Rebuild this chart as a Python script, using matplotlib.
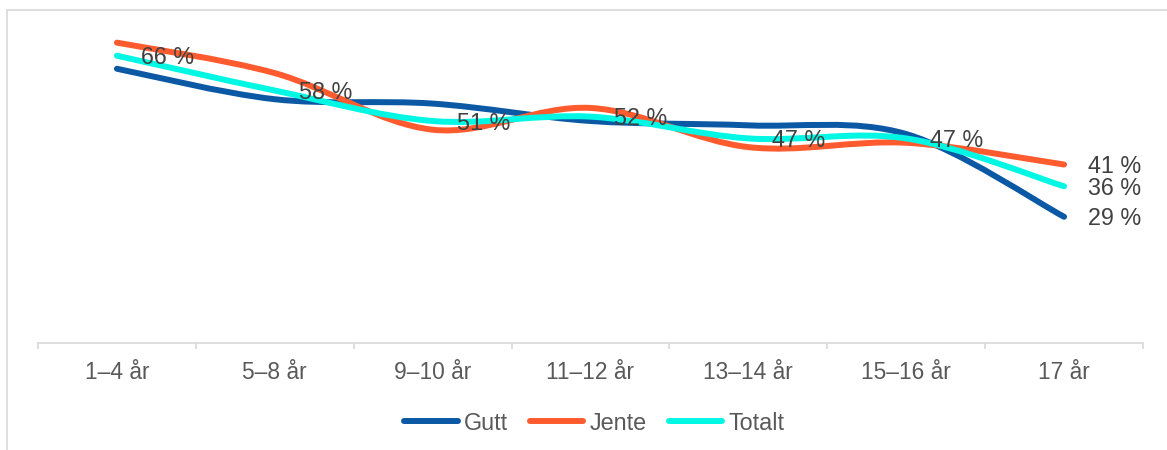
import numpy as np
import matplotlib.pyplot as plt
from matplotlib.path import Path
from matplotlib.patches import PathPatch, Rectangle
from matplotlib.lines import Line2D

plt.rcParams['font.family'] = ['Liberation Sans', 'DejaVu Sans']

kategorier = ['1–4 år', '5–8 år', '9–10 år', '11–12 år', '13–14 år', '15–16 år', '17 år']
gutt = [63, 56, 55, 51, 50, 48, 29]
jente = [69, 62, 49, 54, 45, 46, 41]
totalt = [66, 58, 51, 52, 47, 47, 36]
navn = ['Gutt', 'Jente', 'Totalt']
farger = ['#0B58A4', '#FF5B2F', '#00F7E3']


def glatt_sti(y):
    # excel-style smoothed line as cubic bezier segments
    x = np.arange(len(y), dtype=float)
    p = np.column_stack([x, np.asarray(y, dtype=float)])
    verts = [p[0]]
    codes = [Path.MOVETO]
    n = len(p)
    for i in range(n - 1):
        p0 = p[max(i - 1, 0)]
        p3 = p[min(i + 2, n - 1)]
        c1 = p[i] + (p[i + 1] - p0) / 6
        c2 = p[i + 1] - (p3 - p[i]) / 6
        verts += [c1, c2, p[i + 1]]
        codes += [Path.CURVE4] * 3
    return Path(verts, codes)


fig = plt.figure(figsize=(11.67, 4.5), dpi=100)
ax = fig.add_axes([38 / 1167, 107 / 450, (1143 - 38) / 1167, 333 / 450])

for serie, farge in zip([gutt, jente, totalt], farger):
    ax.add_patch(PathPatch(glatt_sti(serie), facecolor='none', edgecolor=farge,
                           lw=4.3, capstyle='round', joinstyle='round', zorder=2))

for i, v in enumerate(totalt[:-1]):
    ax.annotate(f'{v} %', (i, v), xytext=(24, -2), textcoords='offset pixels',
                ha='left', va='center', fontsize=16.8, color='#404040', zorder=5)
for serie in [gutt, jente, totalt]:
    ax.annotate(f'{serie[-1]} %', (6, serie[-1]), xytext=(24, -2), textcoords='offset pixels',
                ha='left', va='center', fontsize=16.8, color='#404040', zorder=5)

ax.set_xlim(-0.5, 6.5)
ax.set_ylim(0, 76.5)
ax.set_yticks([])
ax.set_xticks(range(7))
ax.set_xticklabels(kategorier, fontsize=16.4, color='#595959')
ax.set_xticks(np.arange(-0.5, 7, 1), minor=True)
ax.tick_params(axis='x', which='major', length=0, pad=13)
ax.tick_params(axis='x', which='minor', length=4.5, color='#d9d9d9', width=1.2)
for s in ['top', 'right', 'left']:
    ax.spines[s].set_visible(False)
ax.spines['bottom'].set_color('#d9d9d9')
ax.spines['bottom'].set_linewidth(1.2)
ax.patch.set_alpha(0)

handles = [Line2D([], [], color=f, lw=4.3, solid_capstyle='round') for f in farger]
fig.legend(handles, navn, loc='center', bbox_to_anchor=(594 / 1167, 1 - 423 / 450),
           ncol=3, frameon=False, fontsize=16.8, handlelength=2.3, handletextpad=0.25,
           columnspacing=0.95, labelcolor='#595959', borderpad=0)

fig.patches.append(Rectangle((7 / 1167, -0.1), 1.1, 1 - 10 / 450 + 0.1,
                             transform=fig.transFigure, fill=False,
                             edgecolor='#d9d9d9', lw=1.2))

fig.savefig('out.png', dpi=100)
